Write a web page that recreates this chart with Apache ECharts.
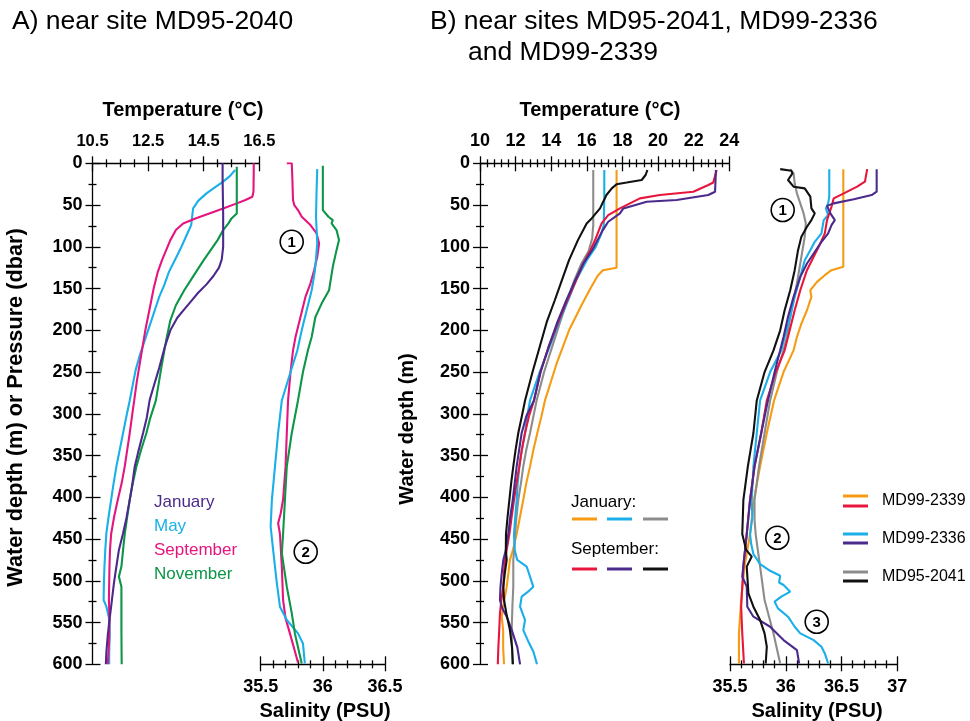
<!DOCTYPE html>
<html><head><meta charset="utf-8">
<script src="https://cdn.jsdelivr.net/npm/echarts@6/dist/echarts.min.js"></script>
<style>html,body{margin:0;padding:0;background:#fff}#c{width:970px;height:721px}</style>
</head><body><div id="c"></div><script>
// ---------- tick labels ----------
const depthTicks = [0,50,100,150,200,250,300,350,400,450,500,550,600];
const tempATicks = [10.5,12.5,14.5,16.5];
const tempBTicks = [10,12,14,16,18,20,22,24];
const salATicks = [35.5,36,36.5];
const salBTicks = [35.5,36,36.5,37];

// ---------- Panel A: [depth, value] ----------
const A_T_jan = [[0,15.18],[20,15.18],[60,15.2],[100,15.2],[115,15.15],[125,15.05],[135,14.85],[145,14.6],[155,14.3],[165,14.05],[175,13.8],[185,13.55],[200,13.3],[220,13.1],[245,12.9],[265,12.72],[283,12.56],[305,12.45],[323,12.32],[345,12.15],[363,12.02],[385,11.93],[403,11.84],[425,11.72],[443,11.6],[463,11.45],[485,11.35],[503,11.27],[531,11.17],[547,11.11],[565,11.05],[585,11.0],[600,10.98]];
const A_T_may = [[8,15.63],[15,15.45],[22,15.2],[30,14.85],[36,14.6],[45,14.3],[54,14.12],[65,14.08],[74,14.05],[85,13.9],[100,13.7],[116,13.46],[130,13.25],[146,13.08],[160,12.9],[176,12.74],[195,12.55],[212,12.38],[230,12.2],[248,12.05],[265,11.95],[284,11.84],[303,11.72],[323,11.6],[343,11.48],[363,11.36],[383,11.26],[403,11.17],[423,11.08],[443,11.0],[463,10.96],[483,10.93],[503,10.91],[523,10.9],[531,11.0],[547,11.11],[565,11.12],[585,11.1],[600,11.1]];
const A_T_sep = [[0,16.3],[10,16.3],[34,16.29],[40,16.25],[44,16.0],[48,15.69],[54,15.2],[60,14.7],[66,14.2],[72,13.76],[80,13.5],[92,13.3],[104,13.15],[116,13.0],[130,12.85],[150,12.7],[175,12.55],[200,12.4],[230,12.25],[260,12.1],[284,12.0],[303,11.92],[323,11.84],[343,11.75],[363,11.66],[383,11.55],[403,11.41],[423,11.28],[444,11.17],[463,11.13],[483,11.11],[503,11.1],[523,11.09],[547,11.11],[570,11.1],[600,11.05]];
const A_T_nov = [[4,15.69],[30,15.69],[60,15.69],[66,15.5],[72,15.39],[80,15.2],[92,15.0],[104,14.75],[116,14.5],[134,14.15],[152,13.8],[170,13.5],[188,13.3],[212,13.15],[240,13.0],[260,12.9],[284,12.78],[307,12.56],[323,12.44],[343,12.25],[363,12.08],[383,11.95],[403,11.84],[423,11.75],[444,11.66],[463,11.6],[483,11.54],[495,11.45],[507,11.54],[530,11.54],[560,11.54],[600,11.55]];

const A_S_sep = [[0,35.71],[0,35.75],[20,35.755],[44,35.76],[50,35.77],[56,35.80],[64,35.83],[74,35.90],[84,35.95],[96,35.97],[112,35.955],[128,35.93],[144,35.90],[160,35.86],[184,35.82],[208,35.78],[224,35.76],[250,35.74],[284,35.72],[323,35.71],[363,35.70],[403,35.68],[420,35.66],[431,35.64],[444,35.655],[483,35.67],[523,35.68],[545,35.70],[563,35.735],[587,35.78],[598,35.80]];
const A_S_may = [[7,35.955],[30,35.95],[64,35.945],[96,35.955],[128,35.937],[152,35.91],[176,35.87],[200,35.83],[224,35.795],[250,35.74],[284,35.67],[323,35.64],[363,35.615],[403,35.59],[435,35.58],[463,35.60],[503,35.63],[531,35.655],[547,35.71],[563,35.80],[575,35.84],[599,35.855]];
const A_S_nov = [[3,36.0],[30,36.0],[56,36.0],[64,36.045],[68,36.08],[72,36.07],[80,36.11],[92,36.13],[104,36.11],[124,36.08],[152,36.05],[168,35.99],[184,35.94],[208,35.91],[224,35.88],[250,35.84],[284,35.80],[323,35.75],[363,35.71],[403,35.695],[444,35.68],[467,35.67],[507,35.71],[539,35.75],[563,35.775],[599,35.83]];

// ---------- Panel B: [depth, value] ----------
const B_T_jan2339 = [[8,17.67],[60,17.67],[100,17.67],[125,17.67],[128,16.9],[135,16.6],[150,16.2],[170,15.7],[200,15.0],[240,14.3],[284,13.65],[303,13.45],[323,13.22],[343,13.0],[363,12.81],[383,12.6],[403,12.43],[423,12.25],[444,12.06],[463,11.85],[475,11.68],[490,11.6],[507,11.5],[525,11.35],[543,11.22],[560,11.3],[580,11.3],[600,11.35]];
const B_T_jan2336 = [[8,16.98],[40,16.98],[74,16.95],[85,16.8],[100,16.5],[116,16.0],[140,15.4],[164,14.95],[190,14.45],[220,13.9],[250,13.35],[284,12.81],[303,12.65],[323,12.53],[343,12.35],[363,12.21],[383,12.12],[403,12.06],[423,11.98],[444,11.91],[463,11.95],[475,12.09],[483,12.62],[495,12.81],[507,12.99],[513,12.7],[519,12.34],[531,12.25],[547,12.53],[559,12.43],[572,12.7],[585,13.0],[600,13.2]];
const B_T_jan2041 = [[8,16.36],[40,16.36],[74,16.36],[90,16.3],[105,16.1],[120,15.7],[140,15.3],[164,14.9],[190,14.5],[220,14.05],[250,13.6],[284,13.18],[303,13.0],[323,12.81],[343,12.6],[363,12.43],[383,12.3],[403,12.15],[423,12.05],[444,11.97],[463,11.92],[475,11.87],[507,11.87],[530,11.82],[559,11.78],[580,11.8],[600,11.82]];
const B_T_sep2339 = [[8,23.29],[23,23.1],[26,22.82],[34,21.98],[38,20.1],[42,18.98],[54,17.86],[62,17.2],[72,16.83],[90,16.5],[104,16.2],[120,15.8],[140,15.4],[164,14.9],[190,14.4],[220,13.85],[250,13.4],[284,13.03],[303,12.75],[323,12.53],[343,12.35],[363,12.21],[383,12.05],[403,11.91],[423,11.78],[444,11.65],[463,11.5],[475,11.4],[490,11.35],[507,11.31],[523,11.2],[539,11.12],[559,11.08],[580,11.03],[600,11.0]];
const B_T_sep2336 = [[8,23.25],[34,23.2],[38,22.82],[44,21.04],[46,19.36],[54,18.05],[60,17.86],[70,17.2],[80,16.9],[92,16.6],[104,16.3],[120,15.8],[140,15.35],[164,14.85],[190,14.35],[220,13.85],[250,13.4],[284,13.03],[303,12.6],[323,12.34],[343,12.2],[363,12.06],[383,11.95],[403,11.84],[423,11.7],[444,11.59],[463,11.45],[475,11.31],[491,11.22],[507,11.15],[523,11.12],[533,11.25],[543,11.5],[560,11.8],[580,12.1],[600,12.25]];
const B_T_sep2041 = [[8,19.4],[14,19.3],[20,19.08],[23,18.24],[25,17.67],[30,17.4],[38,17.1],[54,16.74],[66,16.27],[72,15.99],[92,15.5],[116,15.0],[140,14.6],[164,14.2],[190,13.75],[220,13.35],[250,12.95],[284,12.53],[303,12.35],[323,12.15],[343,12.0],[363,11.87],[383,11.75],[403,11.65],[423,11.55],[444,11.46],[463,11.45],[475,11.5],[490,11.4],[507,11.31],[523,11.35],[539,11.48],[559,11.68],[580,11.8],[600,11.85]];

const B_S_jan2339 = [[7,36.516],[60,36.516],[124,36.516],[128,36.41],[134,36.35],[142,36.28],[152,36.22],[160,36.23],[176,36.19],[192,36.14],[208,36.10],[224,36.07],[250,35.98],[284,35.895],[323,35.83],[363,35.77],[403,35.715],[444,35.68],[483,35.63],[523,35.60],[563,35.58],[599,35.58]];
const B_S_jan2336 = [[7,36.39],[40,36.39],[48,36.38],[54,36.36],[62,36.38],[68,36.34],[84,36.32],[94,36.26],[104,36.22],[116,36.17],[136,36.13],[160,36.08],[184,36.04],[208,35.99],[224,35.96],[250,35.86],[284,35.77],[323,35.74],[363,35.71],[403,35.695],[424,35.70],[444,35.68],[456,35.69],[468,35.71],[480,35.77],[488,35.86],[494,35.95],[502,35.94],[505,35.98],[513,36.04],[519,35.96],[525,35.90],[533,35.93],[543,36.02],[555,36.08],[563,36.13],[571,36.25],[579,36.32],[587,36.35],[599,36.38]];
const B_S_jan2041 = [[7,36.04],[12,36.07],[24,36.08],[36,36.10],[48,36.13],[60,36.16],[72,36.18],[88,36.17],[112,36.14],[144,36.10],[176,36.05],[208,36.01],[224,35.98],[250,35.92],[284,35.86],[323,35.81],[363,35.76],[403,35.72],[427,35.72],[444,35.73],[483,35.77],[523,35.81],[563,35.89],[599,35.95]];
const B_S_sep2339 = [[7,36.73],[22,36.71],[28,36.64],[36,36.52],[42,36.43],[52,36.41],[68,36.37],[84,36.35],[96,36.31],[112,36.25],[128,36.19],[152,36.13],[176,36.08],[208,36.02],[224,35.99],[250,35.91],[284,35.83],[323,35.78],[363,35.72],[403,35.68],[444,35.65],[483,35.62],[507,35.61],[531,35.60],[563,35.61],[599,35.625]];
const B_S_sep2336 = [[7,36.815],[34,36.815],[38,36.77],[43,36.61],[48,36.43],[51,36.37],[60,36.40],[68,36.44],[74,36.41],[84,36.38],[96,36.31],[108,36.25],[120,36.19],[136,36.13],[160,36.07],[184,36.02],[208,35.98],[224,35.95],[250,35.90],[284,35.84],[323,35.78],[363,35.72],[403,35.68],[444,35.65],[475,35.625],[495,35.61],[507,35.65],[531,35.655],[543,35.71],[555,35.86],[571,35.98],[583,36.10],[599,36.12]];
const B_S_sep2041 = [[7,35.95],[9,36.05],[12,36.06],[20,36.02],[28,36.07],[30,36.17],[40,36.22],[54,36.23],[60,36.26],[68,36.23],[76,36.19],[88,36.14],[104,36.11],[128,36.08],[152,36.04],[176,35.99],[200,35.95],[224,35.89],[250,35.81],[284,35.74],[323,35.71],[363,35.66],[388,35.635],[403,35.62],[444,35.61],[463,35.645],[471,35.695],[483,35.65],[515,35.665],[531,35.71],[547,35.77],[563,35.81],[579,35.83],[599,35.82]];

// ---------- styling ----------
const FONT = '"Liberation Sans", Arial, Helvetica, sans-serif';
const C = {purple:'#4b2a8c', blue:'#1aafe9', magenta:'#e5157f', green:'#0d9548', orange:'#f59c14', red:'#e8163d', gray:'#8c8c8c', black:'#111111'};
const AXS = {color:'#000', width:1.3};

function minorOf(majors, step) {
  const out = [];
  for (let i = 0; i < majors.length - 1; i++) {
    for (let v = majors[i] + step; v < majors[i+1] - step/2; v += step) out.push(Math.round(v*1000)/1000);
  }
  return out;
}

const grids = [
  {left:92.5, top:163.3, width:166.8, height:501},   // A temperature
  {left:260.7, top:163.3, width:124.3, height:501},  // A salinity
  {left:480, top:163.3, width:249.3, height:501},    // B temperature
  {left:730, top:163.3, width:167.3, height:501}     // B salinity
];
const xAxes = [], yAxes = [];

function addAxes(list, gridIndex, position, min, max, majors, minors, inverse, label) {
  const base = {type:'value', gridIndex, position, min, max, inverse:!!inverse, silent:true,
    splitLine:{show:false}, axisLine:{show:false, onZero:false}, axisLabel:{show:false}, axisTick:{show:false}};
  const idx = list.length;
  list.push(Object.assign({}, base, {
    axisLine:{show:true, onZero:false, lineStyle:AXS},
    axisTick:{show:true, customValues:majors, length:7, lineStyle:AXS},
    axisLabel: Object.assign({show:true, customValues:majors, color:'#000', fontFamily:FONT, fontWeight:'bold', fontSize:18}, label)
  }));
  list.push(Object.assign({}, base, {axisTick:{show:true, inside:true, customValues:majors, length:8, lineStyle:AXS}}));
  list.push(Object.assign({}, base, {axisTick:{show:true, customValues:minors, length:4, lineStyle:AXS}}));
  list.push(Object.assign({}, base, {axisTick:{show:true, inside:true, customValues:minors, length:4, lineStyle:AXS}}));
  return idx;
}

const depthMinor = minorOf(depthTicks, 25);
const xAT = addAxes(xAxes, 0, 'top', 10.5, 16.5, tempATicks, minorOf(tempATicks, 0.5), false, {margin:13, fontSize:16.5});
const yAT = addAxes(yAxes, 0, 'left', 0, 600, depthTicks, depthMinor, true, {margin:10});
const xAS = addAxes(xAxes, 1, 'bottom', 35.5, 36.5, salATicks, minorOf(salATicks, 0.1), false, {margin:14});
yAxes.push({type:'value', gridIndex:1, min:0, max:600, inverse:true, show:false, axisLine:{onZero:false}});
const yAS = yAxes.length - 1;
const xBT = addAxes(xAxes, 2, 'top', 10, 24, tempBTicks, minorOf(tempBTicks, 0.4), false, {margin:13});
const yBT = addAxes(yAxes, 2, 'left', 0, 600, depthTicks, depthMinor, true, {margin:10});
const xBS = addAxes(xAxes, 3, 'bottom', 35.5, 37, salBTicks, minorOf(salBTicks, 0.1), false, {margin:14});
yAxes.push({type:'value', gridIndex:3, min:0, max:600, inverse:true, show:false, axisLine:{onZero:false}});
const yBS = yAxes.length - 1;

function line(data, xi, yi, color) {
  return {type:'line', xAxisIndex:xi, yAxisIndex:yi, data:data.map(p => [p[1], p[0]]),
    symbol:'none', showSymbol:false, silent:true, animation:false,
    lineStyle:{color, width:2.1}, clip:true};
}

const series = [
  line(A_T_may, xAT, yAT, C.blue), line(A_T_sep, xAT, yAT, C.magenta), line(A_T_nov, xAT, yAT, C.green), line(A_T_jan, xAT, yAT, C.purple),
  line(A_S_sep, xAS, yAS, C.magenta), line(A_S_may, xAS, yAS, C.blue), line(A_S_nov, xAS, yAS, C.green),
  line(B_T_jan2339, xBT, yBT, C.orange), line(B_T_jan2041, xBT, yBT, C.gray), line(B_T_jan2336, xBT, yBT, C.blue),
  line(B_T_sep2339, xBT, yBT, C.red), line(B_T_sep2336, xBT, yBT, C.purple), line(B_T_sep2041, xBT, yBT, C.black),
  line(B_S_jan2339, xBS, yBS, C.orange), line(B_S_jan2041, xBS, yBS, C.gray), line(B_S_jan2336, xBS, yBS, C.blue),
  line(B_S_sep2339, xBS, yBS, C.red), line(B_S_sep2336, xBS, yBS, C.purple), line(B_S_sep2041, xBS, yBS, C.black)
];

function txt(x, y, text, font, fill, align, rot) {
  return {type:'text', x, y, rotation:rot||0, silent:true,
    style:{text, font, fill:fill||'#000', textAlign:align||'left', textVerticalAlign:'middle'}};
}
function circ(x, y, n) {
  return [{type:'circle', shape:{cx:x, cy:y, r:11.5}, silent:true, style:{fill:'#fff', stroke:'#000', lineWidth:1.6}},
          txt(x, y+1, n, 'bold 15px ' + FONT, '#000', 'center')];
}
function seg(x1, x2, y, color) {
  return {type:'line', silent:true, shape:{x1, y1:y, x2, y2:y}, style:{stroke:color, lineWidth:3}};
}
const TF = '26.5px ' + FONT, NF = 'bold 20px ' + FONT, LF = '17px ' + FONT;
const graphic = [
  txt(12, 22, 'A) near site MD95-2040', TF),
  txt(430, 22, 'B) near sites MD95-2041, MD99-2336', TF),
  txt(468, 53, 'and MD99-2339', TF),
  txt(183, 110, 'Temperature (°C)', NF, '#000', 'center'),
  txt(600, 110, 'Temperature (°C)', NF, '#000', 'center'),
  txt(325, 711, 'Salinity (PSU)', NF, '#000', 'center'),
  txt(817, 711, 'Salinity (PSU)', NF, '#000', 'center'),
  txt(16, 407.5, 'Water depth (m) or Pressure (dbar)', 'bold 21.7px ' + FONT, '#000', 'center', Math.PI/2),
  txt(407, 429, 'Water depth (m)', NF, '#000', 'center', Math.PI/2),
  txt(154, 502, 'January', LF, C.purple), txt(154, 526, 'May', LF, C.blue),
  txt(154, 550, 'September', LF, C.magenta), txt(154, 574, 'November', LF, C.green),
  txt(571, 502, 'January:', LF), txt(571, 549, 'September:', LF),
  seg(572, 597, 519, C.orange), seg(607, 632, 519, C.blue), seg(643, 668, 519, C.gray),
  seg(572, 597, 569, C.red), seg(607, 632, 569, C.purple), seg(643, 668, 569, C.black),
  seg(843, 868, 496, C.orange), seg(843, 868, 506, C.red), txt(882, 501, 'MD99-2339', '16px ' + FONT),
  seg(843, 868, 534, C.blue), seg(843, 868, 543, C.purple), txt(882, 539, 'MD99-2336', '16px ' + FONT),
  seg(843, 868, 572, C.gray), seg(843, 868, 581, C.black), txt(882, 577, 'MD95-2041', '16px ' + FONT)
].concat(circ(291.7, 241.7, '1'), circ(305.7, 551.7, '2'), circ(782.7, 210, '1'), circ(777.3, 537.7, '2'), circ(816.7, 621.7, '3'));

const chart = echarts.init(document.getElementById('c'), null, {renderer:'canvas'});
chart.setOption({animation:false, backgroundColor:'#fff', grid:grids, xAxis:xAxes, yAxis:yAxes, series, graphic});
</script></body></html>
